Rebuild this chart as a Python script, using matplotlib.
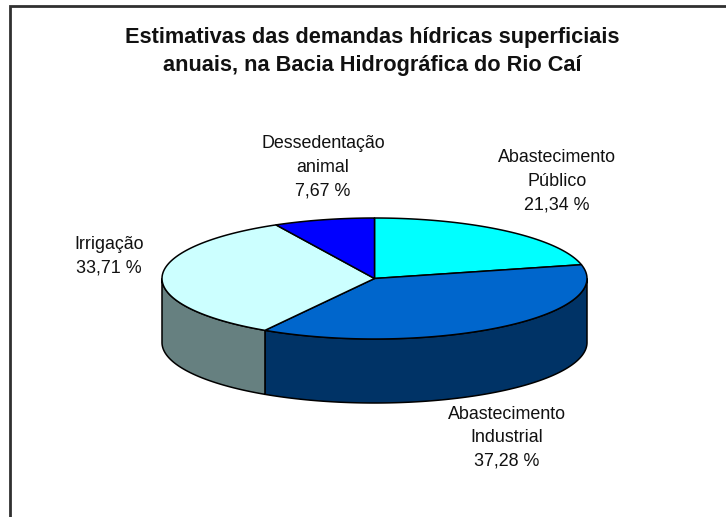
import numpy as np
import matplotlib
matplotlib.use("Agg")
import matplotlib.pyplot as plt
from matplotlib.patches import Polygon

plt.rcParams['font.family'] = ['Liberation Sans', 'DejaVu Sans']

# Data
categories = ["Abastecimento\nPúblico", "Abastecimento\nIndustrial", "Irrigação", "Dessedentação\nanimal"]
values = [21.34, 37.28, 33.71, 7.67]
value_labels = ["21,34 %", "37,28 %", "33,71 %", "7,67 %"]
top_colors = ["#00FFFF", "#0066CC", "#CCFFFF", "#0000FF"]
side_colors = ["#008080", "#003366", "#668080", "#000080"]
title = "Estimativas das demandas hídricas superficiais\nanuais, na Bacia Hidrográfica do Rio Caí"

# Layout (pixels)
W, H = 726, 517
cx, cy, rx, ry, depth = 374.5, 278.5, 212.5, 60.5, 64
label_pos = [(557, 181), (507, 438), (109, 256), (323, 167)]

fig = plt.figure(figsize=(W / 100, H / 100), dpi=100, facecolor="white")
ax = fig.add_axes([0, 0, 1, 1])
ax.set_xlim(0, W)
ax.set_ylim(H, 0)
ax.axis("off")

# Frame: only the top and left edges are in the crop
ax.plot([9.5, 9.5, W], [H, 5.5, 5.5], color="#303030", lw=2.0,
        solid_joinstyle="miter", solid_capstyle="butt", zorder=1)


def ell(theta):
    """Position on the pie ellipse; theta is clockwise from the top, in degrees."""
    t = np.radians(theta)
    return cx + rx * np.sin(t), cy - ry * np.cos(t)


edges = np.concatenate([[0], np.cumsum(values)]) * 360 / sum(values)

# Side walls: only the front half (90..270 deg) is visible
for a, b, col in zip(edges[:-1], edges[1:], side_colors):
    lo, hi = max(a, 90), min(b, 270)
    if hi <= lo:
        continue
    th = np.linspace(lo, hi, 200)
    x, y = ell(th)
    pts = np.column_stack([np.r_[x, x[::-1]], np.r_[y, y[::-1] + depth]])
    ax.add_patch(Polygon(pts, closed=True, fc=col, ec="black", lw=1.1, zorder=2))

# Top faces
for a, b, col in zip(edges[:-1], edges[1:], top_colors):
    th = np.linspace(a, b, 200)
    x, y = ell(th)
    pts = np.column_stack([np.r_[cx, x], np.r_[cy, y]])
    ax.add_patch(Polygon(pts, closed=True, fc=col, ec="black", lw=1.1,
                         joinstyle="round", zorder=3))

# Labels
for name, val, (lx, ly) in zip(categories, value_labels, label_pos):
    ax.text(lx, ly, name + "\n" + val, ha="center", va="center", fontsize=12.9,
            color="#111111", linespacing=1.5, zorder=4)

ax.text(372, 51.5, title, ha="center", va="center", fontsize=15.7, fontweight="bold",
        color="#111111", linespacing=1.38, zorder=4)

fig.savefig("out.png", dpi=100, facecolor="white")
